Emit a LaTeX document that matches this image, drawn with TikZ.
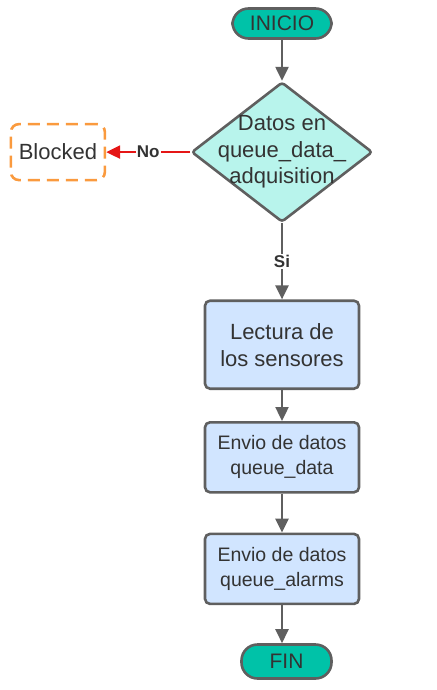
\documentclass[tikz,border=0pt]{standalone}
\usepackage{fontspec}
\setmainfont{Liberation Sans}
\usepackage{xcolor}
\usetikzlibrary{arrows.meta, shapes.geometric, positioning}

\definecolor{linegray}{HTML}{5F5F5F}
\definecolor{textgray}{HTML}{333333}
\definecolor{termteal}{HTML}{00C2A8}
\definecolor{decisionaqua}{HTML}{B8F4EC}
\definecolor{processblue}{HTML}{D1E5FF}
\definecolor{waitorange}{HTML}{FA9A3E}
\definecolor{nored}{HTML}{E51616}

\tikzset{
  terminal/.style={rectangle, rounded corners=16pt, draw=linegray, line width=2.6pt, fill=termteal,
    text=textgray, font=\fontsize{21}{25}\selectfont, minimum width=99pt, minimum height=30pt, inner sep=0pt},
  decision/.style={diamond, draw=linegray, line width=2.6pt, fill=decisionaqua, rounded corners=3pt,
    minimum width=181pt, minimum height=140pt, inner sep=0pt},
  process/.style={rectangle, rounded corners=5pt, draw=linegray, line width=2.6pt, fill=processblue,
    text=textgray, align=center, minimum width=154pt, inner sep=0pt},
  waitbox/.style={rectangle, rounded corners=8pt, draw=waitorange, line width=2.6pt, dash pattern=on 12pt off 7pt,
    text=textgray, font=\fontsize{22}{26}\selectfont, minimum width=94pt, minimum height=56pt, inner sep=0pt},
  flow/.style={draw=linegray, line width=2.4pt, -{Triangle[length=14pt, width=13pt]}},
  answer/.style={fill=white, text=textgray, font=\fontsize{17}{20}\selectfont\bfseries, inner sep=1pt}
}

\begin{document}
\begin{tikzpicture}[x=1pt, y=1pt]
      \useasboundingbox (0,0) rectangle (436,-690);

      \node[terminal] (start) at (282,-23.5) {INICIO};
      \node[decision, below=41pt of start, label={[align=center, text=textgray, font=\fontsize{22}{26.5}\selectfont]center:Datos en\\queue\_data\_\\adquisition}] (check) {};
      \node[waitbox, left=84pt of check] (wait) {Blocked};
      \node[process, below=76pt of check, minimum height=88pt, font=\fontsize{22}{27}\selectfont] (read) {Lectura de\\los sensores};
      \node[process, below=31pt of read, minimum height=70pt, font=\fontsize{19.5}{25}\selectfont] (senddata) {Envio de datos\\queue\_data};
      \node[process, below=39pt of senddata, minimum height=70pt, font=\fontsize{19.5}{25}\selectfont] (sendalarms) {Envio de datos\\queue\_alarms};
      \node[terminal, minimum width=90pt, minimum height=34pt, below=38pt of sendalarms, xshift=4.5pt] (stop) {FIN};

      \draw[flow] (start) -- (check);
      \draw[flow, draw=nored] (check.west) -- node[answer] {No} (wait.east);
      \draw[flow] (check.south) -- node[answer] {Si} (read.north);
      \draw[flow] (read) -- (senddata);
      \draw[flow] (senddata) -- (sendalarms);
      \draw[flow] (sendalarms.south) -- (sendalarms.south |- stop.north);

    \end{tikzpicture}
\end{document}
